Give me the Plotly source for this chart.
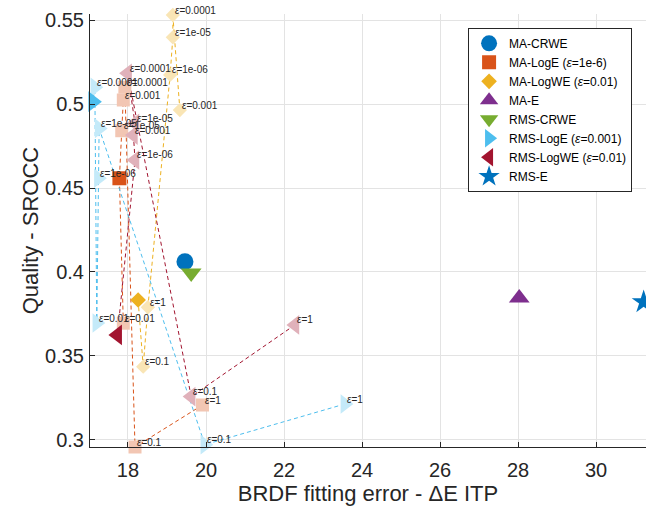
import plotly.graph_objects as go

# ---------------- data ----------------
methods = ["MA-CRWE", "MA-LogE (<i>ε</i>=1e-6)", "MA-LogWE (<i>ε</i>=0.01)", "MA-E",
           "RMS-CRWE", "RMS-LogE (<i>ε</i>=0.001)", "RMS-LogWE (<i>ε</i>=0.01)", "RMS-E"]
main_x = [19.46, 17.78, 18.26, 28.03, 19.62, 17.10, 17.73, 31.22]
main_y = [0.4061, 0.4558, 0.3833, 0.3845, 0.3994, 0.5014, 0.3625, 0.3821]

# epsilon sweeps (listed in the order the dashed line visits them)
ma_loge_eps = ["1", "0.1", "0.0001", "0.001", "1e-05", "1e-06", "0.01"]
ma_loge_x = [19.91, 18.18, 17.92, 17.88, 17.84, 17.78, 17.88]
ma_loge_y = [0.3208, 0.2958, 0.5100, 0.5024, 0.4841, 0.4558, 0.3695]

ma_logwe_eps = ["0.001", "0.0001", "1e-05", "1e-06", "1", "0.1", "0.01"]
ma_logwe_x = [19.33, 19.15, 19.15, 19.08, 18.51, 18.39, 18.26]
ma_logwe_y = [0.4964, 0.5530, 0.5397, 0.5173, 0.3790, 0.3436, 0.3833]

rms_loge_eps = ["1", "0.1", "1e-05", "1e-06", "0.01", "0.0001", "0.001"]
rms_loge_x = [23.56, 19.97, 17.26, 17.24, 17.20, 17.15, 17.10]
rms_loge_y = [0.3214, 0.2972, 0.4855, 0.4558, 0.3696, 0.5100, 0.5014]

rms_logwe_eps = ["1", "0.1", "0.0001", "1e-05", "0.001", "1e-06", "0.01"]
rms_logwe_x = [22.28, 19.62, 17.99, 18.18, 18.14, 18.18, 17.73]
rms_logwe_y = [0.3685, 0.3258, 0.5183, 0.4885, 0.4815, 0.4667, 0.3625]

x_ticks = [18, 20, 22, 24, 26, 28, 30]
y_ticks = [0.3, 0.35, 0.4, 0.45, 0.5, 0.55]

# ---------------- styling ----------------
colors = ["#0072BD", "#D95319", "#EDB120", "#7E2F8E", "#77AC30", "#4DBEEE", "#A2142F", "#0072BD"]
symbols = ["circle", "square", "diamond", "triangle-up", "triangle-down",
           "triangle-right", "triangle-left", "star"]
sizes = [17, 14, 12, 18, 18, 18, 18, 18]


def lighten(hexc, a=0.33):
    r, g, b = int(hexc[1:3], 16), int(hexc[3:5], 16), int(hexc[5:7], 16)
    f = lambda c: int(round(255 - (255 - c) * a))
    return "#%02X%02X%02X" % (f(r), f(g), f(b))


sweeps = [
    (1, ma_loge_eps, ma_loge_x, ma_loge_y, "1e-06"),
    (2, ma_logwe_eps, ma_logwe_x, ma_logwe_y, "0.01"),
    (5, rms_loge_eps, rms_loge_x, rms_loge_y, "0.001"),
    (6, rms_logwe_eps, rms_logwe_x, rms_logwe_y, "0.01"),
]

fig = go.Figure()
annotations = []
for idx, eps, xs, ys, main_eps in sweeps:
    c = colors[idx]
    fig.add_trace(go.Scatter(x=xs, y=ys, mode="lines", showlegend=False, hoverinfo="skip",
                             line=dict(color=c, width=1, dash="4px,3px"), cliponaxis=False))
for idx, eps, xs, ys, main_eps in sweeps:
    c = colors[idx]
    vx = [x for e, x in zip(eps, xs) if e != main_eps]
    vy = [y for e, y in zip(eps, ys) if e != main_eps]
    ve = [e for e in eps if e != main_eps]
    fig.add_trace(go.Scatter(x=vx, y=vy, mode="markers", showlegend=False, hoverinfo="skip",
                             cliponaxis=False,
                             marker=dict(symbol=symbols[idx], size=sizes[idx] - 1,
                                         color=lighten(c), line=dict(width=0))))
    for e, x, y in zip(ve, vx, vy):
        annotations.append(dict(x=x, y=y, xref="x", yref="y", text="<i>ε</i>=" + e,
                                showarrow=False, xanchor="left", yanchor="middle",
                                xshift=0, yshift=5,
                                font=dict(size=10, color="#262626",
                                          family="Liberation Sans, Arial, sans-serif")))

for i, name in enumerate(methods):
    fig.add_trace(go.Scatter(x=[main_x[i]], y=[main_y[i]], mode="markers", name=name,
                             cliponaxis=False,
                             marker=dict(symbol=symbols[i], size=sizes[i], color=colors[i],
                                         line=dict(width=0))))

axis_common = dict(showline=True, linecolor="#262626", linewidth=1, mirror=False,
                   ticks="inside", ticklen=5, tickcolor="#262626", tickwidth=1,
                   showgrid=True, gridcolor="#E3E3E3", gridwidth=1, zeroline=False,
                   automargin=False,
                   tickfont=dict(size=20, color="#262626"))

fig.update_layout(
    width=646, height=512,
    margin=dict(l=90, r=0, t=14, b=65, autoexpand=False),
    paper_bgcolor="white", plot_bgcolor="white",
    font=dict(family="Liberation Sans, Arial, sans-serif", color="#262626"),
    xaxis=dict(range=[17.026, 31.28], tickvals=x_ticks, ticklabelstandoff=5,
               title=dict(text="BRDF fitting error - ΔE ITP", font=dict(size=22), standoff=0),
               **axis_common),
    yaxis=dict(range=[0.2958, 0.5536], tickvals=y_ticks, ticklabelstandoff=1,
               title=dict(text="Quality - SROCC", font=dict(size=22), standoff=0),
               **axis_common),
    legend=dict(x=0.68, y=0.968, xanchor="left", yanchor="top",
                bgcolor="white", bordercolor="#262626", borderwidth=1,
                font=dict(size=12, color="#000000"), tracegroupgap=0,
                itemsizing="trace"),
    annotations=annotations,
    showlegend=True,
)

# remove the default 8px page margin so the figure fills the window exactly
fig.write_html("out.html", config={"displayModeBar": False},
               post_script="document.body.style.margin='0px';")
